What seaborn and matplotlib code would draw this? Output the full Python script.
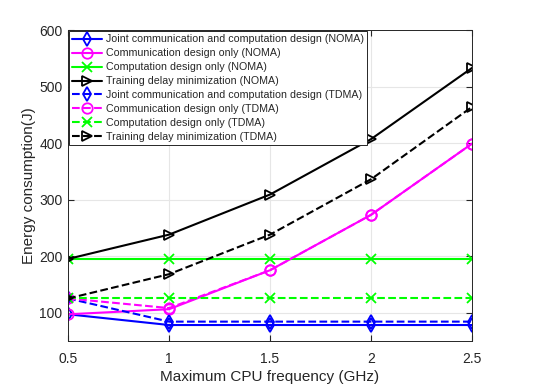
import numpy as np
import pandas as pd
import matplotlib
matplotlib.use("Agg")
import matplotlib.pyplot as plt
import seaborn as sns

# data
freq = [0.5, 1, 1.5, 2, 2.5]
joint_noma = [97, 78, 78, 78, 78]
comm_noma = [97, 106, 175, 273, 399]
comp_noma = [195, 195, 195, 195, 195]
train_noma = [195, 238, 309, 407, 533]
joint_tdma = [125, 84, 84, 84, 84]
comm_tdma = [125, 108, 175, 273, 399]
comp_tdma = [125, 125, 125, 125, 125]
train_tdma = [125, 168, 238, 336, 464]

labels = ["Joint communication and computation design (NOMA)",
          "Communication design only (NOMA)",
          "Computation design only (NOMA)",
          "Training delay minimization (NOMA)",
          "Joint communication and computation design (TDMA)",
          "Communication design only (TDMA)",
          "Computation design only (TDMA)",
          "Training delay minimization (TDMA)"]
series = [joint_noma, comm_noma, comp_noma, train_noma,
          joint_tdma, comm_tdma, comp_tdma, train_tdma]
colors = ["#0000ff", "#ff00ff", "#00ff00", "#000000"] * 2
markers = ["d", "o", "x", ">"] * 2
styles = ["-"] * 4 + ["--"] * 4

sns.set_style("whitegrid")
plt.rcParams['font.family'] = ['Liberation Sans', 'DejaVu Sans']

fig = plt.figure(figsize=(5.45, 3.86), dpi=100)
ax = fig.add_axes([0.125, 0.117, 0.741, 0.805])

for y, lab, c, m, ls in zip(series, labels, colors, markers, styles):
    df = pd.DataFrame({"x": freq, "y": y})
    sns.lineplot(data=df, x="x", y="y", ax=ax, color=c, marker=m, linestyle=ls,
                 linewidth=1.5, markersize=7.5, markerfacecolor="none",
                 markeredgecolor=c, markeredgewidth=1.3, label=lab)

ax.set_xlim(0.5, 2.5)
ax.set_ylim(50, 600)
ax.set_xticks([0.5, 1, 1.5, 2, 2.5])
ax.set_xticklabels(["0.5", "1", "1.5", "2", "2.5"])
ax.set_yticks([100, 200, 300, 400, 500, 600])
ax.tick_params(labelsize=10, colors="#262626", direction="in", length=4,
               bottom=True, left=True, top=True, right=True)
ax.tick_params(axis="x", pad=8)
ax.tick_params(axis="y", pad=4)
ax.grid(True, color="#e6e6e6", linewidth=0.8)
for s in ax.spines.values():
    s.set_color("#262626")
    s.set_linewidth(0.7)
ax.set_xlabel("Maximum CPU frequency (GHz)", fontsize=11, color="#262626", labelpad=3)
ax.set_ylabel("Energy consumption(J)", fontsize=11, color="#262626", labelpad=2)

leg = ax.legend(loc="upper left", fontsize=7.7, frameon=True, fancybox=False,
                borderaxespad=0.1, handlelength=2.8, handletextpad=0.3,
                labelspacing=0.37, borderpad=0.3)
leg.get_frame().set_edgecolor("#262626")
leg.get_frame().set_linewidth(0.7)
leg.get_frame().set_alpha(1)

fig.savefig("out.png", dpi=100)
